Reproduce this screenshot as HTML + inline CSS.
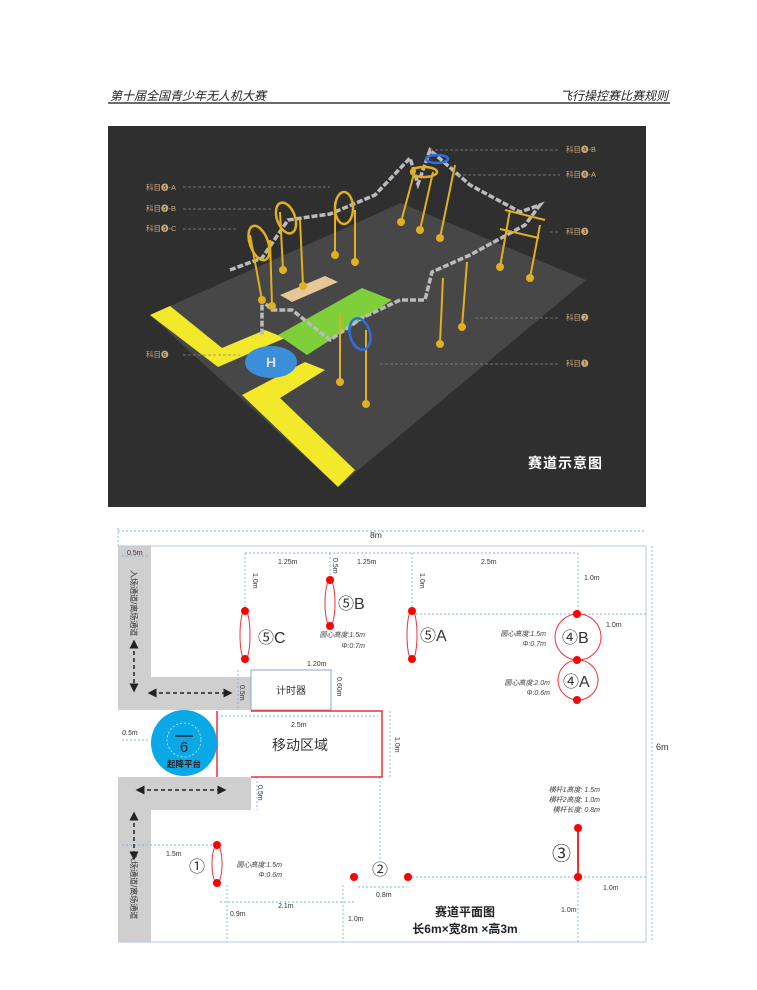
<!DOCTYPE html>
<html><head><meta charset="utf-8"><style>
html,body{margin:0;padding:0;background:#fff;width:757px;height:990px;overflow:hidden}
svg{display:block}
text{font-family:"Liberation Sans","Noto Sans CJK SC",sans-serif}
</style></head><body>
<svg width="757" height="990" viewBox="0 0 757 990" xmlns="http://www.w3.org/2000/svg">
<defs>
<marker id="ah" markerWidth="6" markerHeight="6" refX="3" refY="3" orient="auto-start-reverse"><path d="M0,0 L6,3 L0,6 Z" fill="#222"/></marker>
</defs>
<!-- header -->
<text x="110" y="100" font-size="12" font-style="italic" fill="#222">第十届全国青少年无人机大赛</text>
<text x="668" y="100" font-size="12" font-style="italic" fill="#222" text-anchor="end">飞行操控赛比赛规则</text>
<line x1="108" y1="103" x2="670" y2="103" stroke="#111" stroke-width="1.2"/>

<!-- top 3D illustration -->
<rect x="108" y="126" width="538" height="381" fill="#2f2f2f"/>
<polygon points="150,315 401,203 586,280 338,487" fill="#474747"/>
<polygon points="150,315 170,306 222,348 265,330 285,338 218,367" fill="#f2e92a"/>
<polygon points="242,395 305,362 325,370 280,398 355,470 338,487" fill="#f2e92a"/>
<polygon points="278,335 362,288 392,300 307,355" fill="#7ecf3a"/>
<ellipse cx="271" cy="362" rx="26" ry="16" fill="#3b8fd8"/>
<text x="271" y="367" font-size="14" fill="#ddd" text-anchor="middle" font-weight="bold">H</text>
<polygon points="280,295 325,276 338,282 292,302" fill="#e6c79a"/>
<polyline points="230,270 262,258 288,220 330,214 375,195 410,158 418,184 430,150 470,185 520,212 540,205 525,225 470,255 432,272 425,300 400,300 362,318 330,340 292,310 272,310 262,300 262,335" fill="none" stroke="#bbb" stroke-width="3.5" stroke-dasharray="6,2"/>
<g stroke="#e0b020" stroke-width="2">
<line x1="250" y1="235" x2="262" y2="300"/><line x1="270" y1="240" x2="272" y2="305"/>
<line x1="280" y1="212" x2="283" y2="270"/><line x1="300" y1="220" x2="303" y2="285"/>
<line x1="335" y1="202" x2="335" y2="255"/><line x1="355" y1="210" x2="355" y2="262"/>
<line x1="415" y1="170" x2="401" y2="222"/><line x1="433" y1="172" x2="420" y2="230"/>
<line x1="455" y1="165" x2="440" y2="238"/>
<line x1="510" y1="210" x2="500" y2="267"/><line x1="540" y1="225" x2="530" y2="278"/>
<line x1="443" y1="278" x2="440" y2="343"/><line x1="467" y1="262" x2="462" y2="327"/>
<line x1="340" y1="313" x2="340" y2="380"/><line x1="366" y1="330" x2="366" y2="402"/>
</g>
<g fill="#e0b020">
<circle cx="262" cy="300" r="4"/><circle cx="272" cy="306" r="4"/><circle cx="283" cy="270" r="4"/><circle cx="303" cy="286" r="4"/>
<circle cx="335" cy="255" r="4"/><circle cx="355" cy="262" r="4"/><circle cx="401" cy="222" r="4"/><circle cx="420" cy="230" r="4"/>
<circle cx="440" cy="238" r="4"/><circle cx="500" cy="267" r="4"/><circle cx="530" cy="278" r="4"/><circle cx="440" cy="344" r="4"/>
<circle cx="462" cy="327" r="4"/><circle cx="340" cy="382" r="4"/><circle cx="366" cy="404" r="4"/>
</g>
<g fill="none" stroke-width="2.5">
<ellipse cx="259" cy="243" rx="9" ry="18" stroke="#e0b020" transform="rotate(-20 259 243)"/>
<ellipse cx="286" cy="218" rx="9" ry="16" stroke="#e0b020" transform="rotate(-20 286 218)"/>
<ellipse cx="344" cy="208" rx="9" ry="16" stroke="#e0b020"/>
<ellipse cx="424" cy="172" rx="13" ry="5" stroke="#e0b020"/>
<ellipse cx="437" cy="159" rx="11" ry="4" stroke="#2d6fe0"/>
<ellipse cx="360" cy="334" rx="10" ry="16" stroke="#2d6fe0" transform="rotate(-15 360 334)"/>
</g>
<g stroke="#e0b020" stroke-width="2"><line x1="505" y1="210" x2="545" y2="220"/><line x1="500" y1="229" x2="539" y2="238"/></g>
<g stroke="#888" stroke-width="0.7" stroke-dasharray="3,2">
<line x1="183" y1="187" x2="330" y2="187"/><line x1="183" y1="209" x2="272" y2="209"/><line x1="183" y1="229" x2="238" y2="229"/>
<line x1="183" y1="355" x2="240" y2="355"/>
<line x1="430" y1="150" x2="560" y2="150"/><line x1="453" y1="175" x2="560" y2="175"/>
<line x1="550" y1="232" x2="560" y2="232"/><line x1="475" y1="318" x2="560" y2="318"/><line x1="380" y1="364" x2="560" y2="364"/>
</g>
<g font-size="7.5" fill="#c9a87a">
<text x="146" y="190">科目❺-A</text><text x="146" y="211">科目❺-B</text><text x="146" y="231">科目❺-C</text><text x="146" y="357">科目❻</text>
<text x="566" y="152">科目❹-B</text><text x="566" y="177">科目❹-A</text><text x="566" y="234">科目❸</text>
<text x="566" y="320">科目❷</text><text x="566" y="366">科目❶</text>
</g>
<text x="528" y="468" font-size="14" font-weight="bold" fill="#fff" letter-spacing="1">赛道示意图</text>

<!-- bottom plan -->
<g fill="#cfcfcf">
<rect x="118" y="546" width="33" height="164"/><rect x="118" y="677" width="133" height="33"/>
<rect x="118" y="777" width="33" height="165"/><rect x="118" y="777" width="133" height="33"/>
</g>
<g stroke="#b7c9dc" stroke-width="1" fill="none">
<line x1="118" y1="546" x2="646" y2="546"/><line x1="646" y1="546" x2="646" y2="942"/>
<line x1="118" y1="942" x2="646" y2="942"/>
</g>
<g stroke="#7fb3e6" stroke-width="0.9" fill="none" stroke-dasharray="2,2">
<line x1="118" y1="531" x2="646" y2="531"/><line x1="118" y1="528" x2="118" y2="546"/>
<line x1="652" y1="546" x2="652" y2="942"/>
<line x1="122" y1="556" x2="150" y2="556"/>
<line x1="245" y1="553" x2="578" y2="553"/>
<line x1="245" y1="553" x2="245" y2="610"/><line x1="330" y1="553" x2="330" y2="580"/>
<line x1="412" y1="553" x2="412" y2="610"/><line x1="578" y1="553" x2="578" y2="614"/>
<line x1="412" y1="614" x2="646" y2="614"/>
<line x1="238" y1="670" x2="238" y2="710"/>
<line x1="221" y1="716" x2="378" y2="716"/><line x1="390" y1="711" x2="390" y2="777"/>
<line x1="122" y1="740" x2="150" y2="740"/>
<line x1="257" y1="777" x2="257" y2="810"/>
<line x1="380" y1="777" x2="380" y2="860"/>
<line x1="122" y1="845" x2="215" y2="845"/>
<line x1="220" y1="902" x2="354" y2="902"/>
<line x1="358" y1="887" x2="407" y2="887"/>
<line x1="408" y1="877" x2="646" y2="877"/>
<line x1="227" y1="885" x2="227" y2="942"/><line x1="343" y1="885" x2="343" y2="942"/>
<line x1="578" y1="880" x2="578" y2="942"/>
</g>
<rect x="251" y="670" width="80" height="40" fill="#fff" stroke="#8aa6c8" stroke-width="1"/>
<text x="291" y="694" font-size="10" fill="#333" text-anchor="middle">计时器</text>
<polyline points="251,711 382,711 382,777 251,777" fill="none" stroke="#e8333a" stroke-width="1.5"/>
<line x1="217" y1="711" x2="217" y2="777" stroke="#e8333a" stroke-width="1.5"/>
<text x="300" y="750" font-size="14" fill="#333" text-anchor="middle">移动区域</text>
<circle cx="184" cy="743" r="33" fill="#0aa8e6"/>
<circle cx="184" cy="740" r="17" fill="none" stroke="#cfeffc" stroke-width="0.8" stroke-dasharray="2,2"/>
<line x1="175" y1="736" x2="193" y2="736" stroke="#222" stroke-width="1.5"/>
<text x="184" y="752" font-size="15" fill="#222" text-anchor="middle">6</text>
<text x="184" y="767" font-size="8.5" font-weight="bold" fill="#222" text-anchor="middle">起降平台</text>
<g stroke="#222" stroke-width="1.5" stroke-dasharray="4,3">
<line x1="134" y1="644" x2="134" y2="688" marker-start="url(#ah)" marker-end="url(#ah)"/>
<line x1="152" y1="693" x2="228" y2="693" marker-start="url(#ah)" marker-end="url(#ah)"/>
<line x1="140" y1="790" x2="222" y2="790" marker-start="url(#ah)" marker-end="url(#ah)"/>
<line x1="134" y1="816" x2="134" y2="856" marker-start="url(#ah)" marker-end="url(#ah)"/></g>
<g fill="none" stroke="#e8333a" stroke-width="1">
<ellipse cx="245" cy="635" rx="5" ry="25"/><ellipse cx="330" cy="603" rx="5" ry="23"/><ellipse cx="412" cy="635" rx="5" ry="25"/>
<circle cx="578" cy="637" r="23"/><circle cx="578" cy="680" r="20"/><ellipse cx="217" cy="864" rx="5" ry="19"/>
</g>
<line x1="578" y1="828" x2="578" y2="877" stroke="#e8333a" stroke-width="2"/>
<g fill="#f00">
<circle cx="245" cy="611" r="4"/><circle cx="245" cy="659" r="4"/><circle cx="330" cy="580" r="4"/><circle cx="330" cy="626" r="4"/>
<circle cx="412" cy="611" r="4"/><circle cx="412" cy="659" r="4"/><circle cx="577" cy="614" r="4"/><circle cx="577" cy="660" r="4"/>
<circle cx="577" cy="700" r="4"/><circle cx="217" cy="845" r="4"/><circle cx="217" cy="883" r="4"/>
<circle cx="354" cy="877" r="4"/><circle cx="408" cy="877" r="4"/><circle cx="578" cy="828" r="4"/><circle cx="578" cy="877" r="4"/>
</g>
<g font-size="16" fill="#333">
<text x="258" y="643">⑤C</text><text x="338" y="609">⑤B</text><text x="420" y="641">⑤A</text>
<text x="562" y="643">④B</text><text x="563" y="687">④A</text>
<text x="189" y="872">①</text><text x="372" y="875">②</text><text x="552" y="860" font-size="19">③</text>
</g>
<g font-size="7" fill="#333">
<text x="370" y="538" font-size="8.5">8m</text>
<text x="127" y="555">0.5m</text>
<text x="278" y="564">1.25m</text><text x="357" y="564">1.25m</text><text x="481" y="564">2.5m</text>
<text x="584" y="580">1.0m</text><text x="606" y="627">1.0m</text>
<text x="307" y="666">1.20m</text><text x="291" y="727">2.5m</text>
<text x="122" y="735" font-style="italic">0.5m</text>
<text x="166" y="856">1.5m</text><text x="278" y="908">2.1m</text><text x="376" y="897">0.8m</text>
<text x="230" y="916">0.9m</text><text x="348" y="921">1.0m</text><text x="561" y="912">1.0m</text><text x="603" y="890">1.0m</text>
<text x="656" y="750" font-size="9">6m</text>
<g font-style="italic" fill="#444">
<text x="365" y="637" text-anchor="end">圆心高度:1.5m</text><text x="365" y="648" text-anchor="end">Φ:0.7m</text>
<text x="546" y="636" text-anchor="end">圆心高度:1.5m</text><text x="546" y="646" text-anchor="end">Φ:0.7m</text>
<text x="550" y="685" text-anchor="end">圆心高度:2.0m</text><text x="550" y="695" text-anchor="end">Φ:0.6m</text>
<text x="282" y="867" text-anchor="end">圆心高度:1.5m</text><text x="282" y="877" text-anchor="end">Φ:0.6m</text>
<text x="600" y="792" text-anchor="end">横杆1高度:  1.5m</text><text x="600" y="802" text-anchor="end">横杆2高度:  1.0m</text><text x="600" y="812" text-anchor="end">横杆长度:  0.8m</text>
</g>
</g>
<g font-size="7" fill="#333">
<text transform="translate(253,573) rotate(90)">1.0m</text>
<text transform="translate(333,558) rotate(90)">0.5m</text>
<text transform="translate(420,573) rotate(90)">1.0m</text>
<text transform="translate(240,685) rotate(90)">0.5m</text>
<text transform="translate(337,677) rotate(90)">0.60m</text>
<text transform="translate(395,737) rotate(90)">1.0m</text>
<text transform="translate(258,785) rotate(90)">0.5m</text>
</g>
<g font-size="8" fill="#333">
<text transform="translate(131,570) rotate(90)">入场通道/离场通道</text>
<text transform="translate(131,853) rotate(90)">入场通道/离场通道</text>
</g>
<text x="465" y="916" font-size="12" font-weight="bold" fill="#222" text-anchor="middle">赛道平面图</text>
<text x="465" y="933" font-size="12" font-weight="bold" fill="#222" text-anchor="middle">长6m×宽8m ×高3m</text>
</svg>
</body></html>
